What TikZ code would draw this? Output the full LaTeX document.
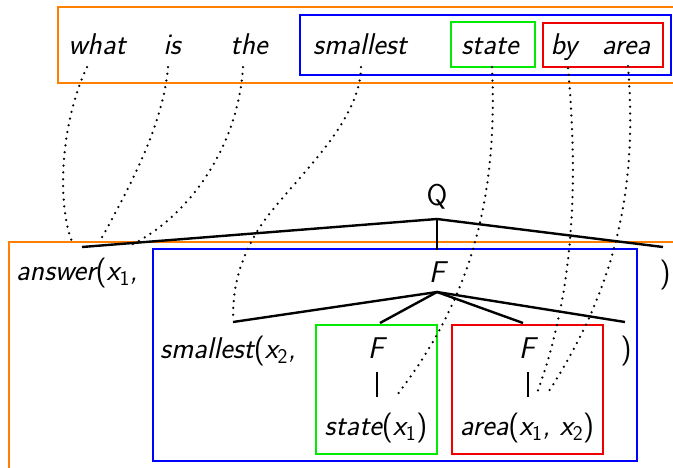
\documentclass[tikz,border=0pt]{standalone}
\usepackage{fontspec}
\usepackage{amsmath}
\definecolor{borange}{RGB}{255,128,0}
\definecolor{bblue}{RGB}{0,0,255}
\definecolor{bgreen}{RGB}{0,235,0}
\definecolor{bred}{RGB}{240,0,0}
\newcommand{\sub}[1]{$_{\text{\upshape #1}}$}
\newcommand{\lp}{{\upshape(}}
\newcommand{\rp}{{\upshape)}}
\begin{document}
\begin{tikzpicture}[x=1pt,y=-1pt,
  every node/.style={inner sep=0pt, font=\fontsize{30}{36}\selectfont\sffamily\itshape},
  word/.style={anchor=base},
  frame/.style={line width=2.2pt},
  tree/.style={line width=2.4pt},
  align/.style={line width=2.5pt, line cap=round, dash pattern=on 0pt off 6.8pt},
]
\useasboundingbox (0,0) rectangle (673,467);
\clip (0,0) rectangle (673,467);
% frames
\draw[frame,borange] (58,7) rectangle (700,83);
\draw[frame,bblue] (300,15) rectangle (671,75);
\draw[frame,bgreen] (451,22) rectangle (535,67);
\draw[frame,bred] (543,23) rectangle (663,67);
\draw[frame,borange] (9,242) rectangle (700,500);
\draw[frame,bblue] (153,249) rectangle (637,461);
\draw[frame,bgreen] (316,325) rectangle (437,454);
\draw[frame,bred] (452,325) rectangle (603,454);
% sentence
\node[word] (w1) at (97,54) {what};
\node[word] (w2) at (172,54) {is};
\node[word] (w3) at (249,54) {the};
\node[word] (w4) at (360,54) {smallest};
\node[word] (w5) at (490,54) {state};
\node[word] (w6) at (564,54) {by};
\node[word] (w7) at (626,54) {area};
% logical form
\node[word,font=\fontsize{30}{36}\selectfont\sffamily\upshape] (Q) at (437,205) {Q};
\node[anchor=base west] (ans) at (16,280) {answer\lp x\sub{1},};
\node[word] (F0) at (437,282) {F};
\node[word] (rp1) at (665,282) {\rp};
\node[anchor=base west] (sm) at (160,358) {smallest\lp x\sub{2},};
\node[word] (gF) at (376,358) {F};
\node[word] (rF) at (527,358) {F};
\node[word] (rp2) at (626,358) {\rp};
\node[word] (gS) at (376,435) {state\lp x\sub{1}\rp};
\node[word] (rS) at (527,435) {area\lp x\sub{1}, x\sub{2}\rp};
% tree coordinates
\coordinate (qj) at (437,219);
\coordinate (qL) at (82,247);
\coordinate (qR) at (663,247);
\coordinate (qD) at (437,250);
\coordinate (fj) at (437,292);
\coordinate (fL) at (233,322);
\coordinate (fG) at (380,323);
\coordinate (fRd) at (523,323);
\coordinate (fR) at (625,322);
\coordinate (gb1) at (377,372);
\coordinate (gb2) at (377,397);
\coordinate (rb1) at (528,372);
\coordinate (rb2) at (528,397);
\draw[tree] (qL) -- (qj) -- (qR);
\draw[tree] (qj) -- (qD);
\draw[tree] (fL) -- (fj) -- (fR);
\draw[tree] (fG) -- (fj) -- (fRd);
\draw[tree] (gb1) -- (gb2);
\draw[tree] (rb1) -- (rb2);
% alignment coordinates
\coordinate (a1s) at (87,67);  \coordinate (a1e) at (73,244);
\coordinate (a2s) at (168,67); \coordinate (a2e) at (99,243);
\coordinate (a3s) at (243,67); \coordinate (a3e) at (129,246);
\coordinate (a4s) at (361,67); \coordinate (a4m) at (255,235); \coordinate (a4e) at (233,318);
\coordinate (a5s) at (492,67); \coordinate (a5e) at (397,395);
\coordinate (a6s) at (568,68); \coordinate (a6e) at (537,393);
\coordinate (a7s) at (628,66); \coordinate (a7e) at (547,394);
\draw[align] (a1s) .. controls (58,130) and (58,210) .. (a1e);
\draw[align] (a2s) .. controls (163,130) and (122,200) .. (a2e);
\draw[align] (a3s) .. controls (238,150) and (185,220) .. (a3e);
\draw[align] (a4s) .. controls (360,130) and (280,190) .. (a4m) .. controls (238,265) and (233,290) .. (a4e);
\draw[align] (a5s) .. controls (498,200) and (470,300) .. (a5e);
\draw[align] (a6s) .. controls (578,180) and (575,290) .. (a6e);
\draw[align] (a7s) .. controls (638,190) and (615,290) .. (a7e);
\end{tikzpicture}
\end{document}
